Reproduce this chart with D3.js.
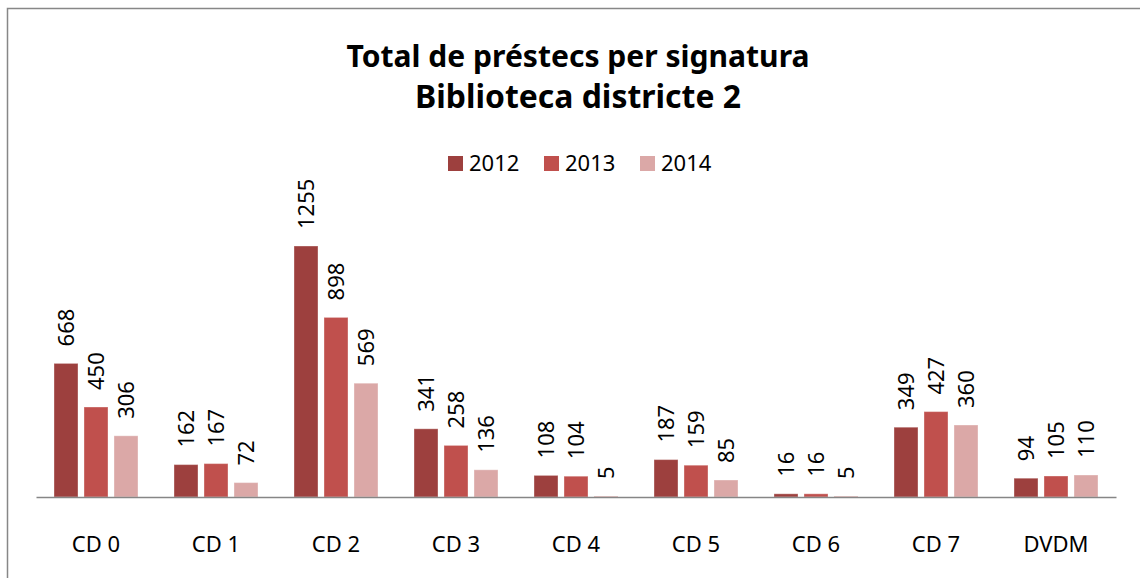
<!DOCTYPE html>
<html>
<head>
<meta charset="utf-8">
<script src="https://cdn.jsdelivr.net/npm/d3@7"></script>
<style>
  html, body { margin: 0; padding: 0; background: #fff; }
  svg { display: block; font-family: "Noto Sans", "Open Sans", sans-serif; }
</style>
</head>
<body>
<svg id="chart" width="1140" height="578"></svg>
<script>
const categories = ["CD 0", "CD 1", "CD 2", "CD 3", "CD 4", "CD 5", "CD 6", "CD 7", "DVDM"];
const years = ["2012", "2013", "2014"];
const values2012 = [668, 162, 1255, 341, 108, 187, 16, 349, 94];
const values2013 = [450, 167, 898, 258, 104, 159, 16, 427, 105];
const values2014 = [306, 72, 569, 136, 5, 85, 5, 360, 110];
const colors = ["#9d403e", "#c0504d", "#dba8a7"];
const titleLines = ["Total de préstecs per signatura", "Biblioteca districte 2"];

const seriesValues = [values2012, values2013, values2014];

const svg = d3.select("#chart");

// chart frame (runs off the right and bottom edges in the original)
svg.append("rect")
  .attr("x", 7.5).attr("y", 8.5)
  .attr("width", 1150).attr("height", 600)
  .attr("fill", "#fff")
  .attr("stroke", "#878787")
  .attr("stroke-width", 1.5);

// title, sized to match the original line widths
const titleWidths = [463, 326];
titleLines.forEach((line, i) => {
  const t = svg.append("text")
    .attr("x", 578)
    .attr("y", 67 + i * 41)
    .attr("text-anchor", "middle")
    .attr("font-weight", "bold")
    .attr("font-size", 30)
    .attr("fill", "#000")
    .text(line);
  const w = t.node().getComputedTextLength();
  t.attr("font-size", 30 * titleWidths[i] / w);
});

// legend
const legend = svg.append("g");
years.forEach((yr, i) => {
  const lx = 448 + i * 96;
  legend.append("rect")
    .attr("x", lx).attr("y", 156)
    .attr("width", 15).attr("height", 15)
    .attr("fill", colors[i]);
  legend.append("text")
    .attr("x", lx + 21).attr("y", 171)
    .attr("font-size", 22)
    .attr("fill", "#000")
    .text(yr);
});

const x0 = d3.scaleBand().domain(categories).range([36, 1116]).padding(0);
const x1 = d3.scaleBand().domain(years).range([18, 102]).paddingInner(0.2).paddingOuter(0);
const y = d3.scaleLinear().domain([0, 1400]).range([497, 217]);

const groups = svg.append("g")
  .selectAll("g")
  .data(categories)
  .join("g")
  .attr("transform", d => `translate(${x0(d)},0)`);

years.forEach((yr, si) => {
  groups.append("rect")
    .attr("x", x1(yr))
    .attr("y", (d, ci) => y(seriesValues[si][ci]))
    .attr("width", x1.bandwidth())
    .attr("height", (d, ci) => y(0) - y(seriesValues[si][ci]))
    .attr("fill", colors[si])
    .attr("stroke", "#fff")
    .attr("stroke-opacity", 0.35)
    .attr("stroke-width", 1);

  groups.append("text")
    .attr("transform", (d, ci) => {
      const cx = x1(yr) + x1.bandwidth() / 2;
      const cy = y(seriesValues[si][ci]) - 17;
      return `translate(${cx},${cy}) rotate(-90)`;
    })
    .attr("dy", "0.36em")
    .attr("font-size", 22)
    .attr("fill", "#000")
    .text((d, ci) => seriesValues[si][ci]);
});

// category axis
const xAxis = svg.append("g")
  .attr("transform", `translate(0,${y(0)})`)
  .call(d3.axisBottom(x0).tickSize(0).tickPadding(0));
xAxis.select(".domain").attr("stroke", "#868686").attr("stroke-width", 1.5);
xAxis.selectAll("text")
  .attr("font-family", "Noto Sans, Open Sans, sans-serif")
  .attr("font-size", 22)
  .attr("fill", "#000")
  .attr("dy", null)
  .attr("y", 55);
</script>
</body>
</html>
